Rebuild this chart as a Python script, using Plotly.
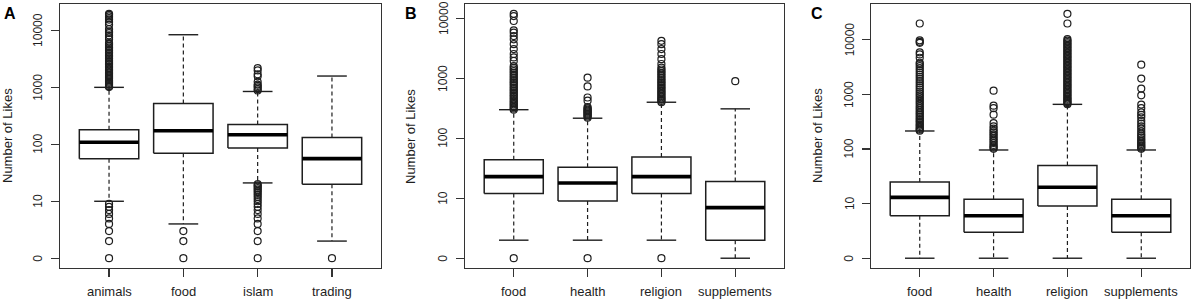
import math
import plotly.graph_objects as go

# ---------------- data (Number of Likes) ----------------
cats_A = ["animals", "food", "islam", "trading"]
q1_A = [55, 69, 85, 19]
med_A = [108, 172, 146, 55]
q3_A = [179, 520, 222, 131]
lo_A = [9, 3, 20, 1]
hi_A = [1000, 8400, 846, 1580]
out_A = [
    [0, 1, 2, 3, 4, 5, 6, 7, 8,
     1010, 1050, 1100, 1150, 1200, 1260, 1320, 1400, 1480, 1560, 1650, 1750, 1850,
     1960, 2080, 2200, 2350, 2500, 2650, 2800, 3000, 3200, 3400, 3600, 3850, 4100,
     4400, 4700, 5000, 5300, 5700, 6000, 7000, 7600, 8200, 9000, 9500, 10500,
     12600, 14000, 15500, 16500, 17700, 18800, 19600],
    [0, 1, 2],
    [0, 1, 2, 3, 4, 5, 6, 7, 8, 9, 10, 11, 12, 13, 14, 15, 16, 17, 18, 19,
     880, 930, 1000, 1060, 1120, 1250, 1560, 1700, 1980, 2180],
    [0],
]

cats_B = ["food", "health", "religion", "supplements"]
q1_B = [11, 8, 11, 1]
med_B = [22, 17, 22, 6]
q3_B = [43, 32, 48, 18]
lo_B = [1, 1, 1, 0]
hi_B = [300, 216, 400, 310]
out_B = [
    [0, 300, 315, 330, 350, 370, 390, 410, 435, 460, 490, 520, 550, 585, 620, 660,
     700, 750, 800, 850, 900, 960, 1020, 1090, 1160, 1240, 1320, 1410, 1500, 1600,
     1960, 2240, 2560, 3090, 3730, 4500, 5100, 5800, 6350, 9100, 11000, 12000],
    [0, 220, 230, 240, 250, 260, 270, 280, 290, 300, 315, 330, 425, 480, 735, 1030],
    [0, 400, 420, 440, 460, 485, 510, 540, 570, 600, 635, 670, 710, 750, 800, 850,
     900, 960, 1020, 1090, 1160, 1240, 1320, 1410, 1520, 1740, 2100, 2560, 3090,
     3730, 4250],
    [900],
]

cats_C = ["food", "health", "religion", "supplements"]
q1_C = [5, 2, 8, 2]
med_C = [12, 5, 19, 5]
q3_C = [24, 11, 49, 11]
lo_C = [0, 0, 0, 0]
hi_C = [213, 95, 657, 95]
out_C = [
    [215, 225, 235, 250, 265, 280, 300, 320, 340, 365, 390, 420, 450, 480, 520, 560,
     600, 650, 700, 760, 820, 890, 960, 1040, 1130, 1230, 1340, 1460, 1600, 1750,
     1920, 2100, 2300, 2520, 2760, 3020, 3300, 3600, 3800, 4700, 5400, 5900, 8800,
     9200, 9800, 19900],
    [100, 105, 111, 118, 128, 138, 148, 160, 173, 185, 200, 215, 235, 260, 298, 425,
     560, 620, 1170],
    [660, 690, 720, 760, 800, 840, 890, 940, 1000, 1060, 1120, 1190, 1260, 1340, 1420,
     1510, 1600, 1700, 1800, 1910, 2030, 2150, 2280, 2420, 2570, 2730, 2900, 3080,
     3270, 3470, 3690, 3920, 4160, 4420, 4700, 4990, 5300, 5630, 5980, 6350, 6750,
     7170, 7620, 8090, 8600, 9130, 9700, 10300, 19900, 30000],
    [100, 104, 110, 116, 123, 130, 140, 150, 162, 175, 190, 210, 235, 260, 290, 330,
     380, 420, 470, 560, 650, 960, 1280, 1950, 3500],
]

tick_vals = [0, 1, 2, 3, 4]
tick_text = ["0", "10", "100", "1000", "10000"]
panel_letters = ["A", "B", "C"]
y_title = "Number of Likes"

# ---------------- layout constants ----------------
W, H = 1192, 300
x_dom_px = [(60, 381), (465, 784), (871, 1190)]
y_top_px, y_bot_px = 4, 268
title_x_px = [7, 410, 817]
letter_x_px = [10, 411, 817]
ylab_offset_px = 21.5
INK = "#1e1e1e"
FONT = "Liberation Sans, Arial, Helvetica, sans-serif"


def tr(v):
    return math.log10(v + 1)


panels = [
    (cats_A, q1_A, med_A, q3_A, lo_A, hi_A, out_A),
    (cats_B, q1_B, med_B, q3_B, lo_B, hi_B, out_B),
    (cats_C, q1_C, med_C, q3_C, lo_C, hi_C, out_C),
]

fig = go.Figure()
layout = dict(
    width=W, height=H, margin=dict(l=0, r=0, t=0, b=0),
    paper_bgcolor="white", plot_bgcolor="white", showlegend=False,
    font=dict(family=FONT, color=INK, size=13),
)
annotations = []

for p, (cats, q1, med, q3, lo, hi, outs) in enumerate(panels):
    xa = "x" if p == 0 else f"x{p+1}"
    ya = "y" if p == 0 else f"y{p+1}"
    n = len(cats)
    pos = list(range(1, n + 1))

    wx, wy, cx, cy, bx, by, mx, my, ox, oy = [], [], [], [], [], [], [], [], [], []
    allv = []
    for i in range(n):
        c = pos[i]
        a1, m, a3, l, h = tr(q1[i]), tr(med[i]), tr(q3[i]), tr(lo[i]), tr(hi[i])
        wx += [c, c, None, c, c, None]
        wy += [a3, h, None, a1, l, None]
        cx += [c - 0.2, c + 0.2, None, c - 0.2, c + 0.2, None]
        cy += [h, h, None, l, l, None]
        bx += [c - 0.4, c + 0.4, c + 0.4, c - 0.4, c - 0.4, None]
        by += [a1, a1, a3, a3, a1, None]
        mx += [c - 0.4, c + 0.4, None]
        my += [m, m, None]
        for v in outs[i]:
            ox.append(c)
            oy.append(tr(v))
        allv += [h, l] + [tr(v) for v in outs[i]]

    fig.add_trace(go.Scatter(x=wx, y=wy, mode="lines", xaxis=xa, yaxis=ya,
                             line=dict(color=INK, width=1.2, dash="4px,3px"),
                             hoverinfo="skip"))
    fig.add_trace(go.Scatter(x=cx, y=cy, mode="lines", xaxis=xa, yaxis=ya,
                             line=dict(color=INK, width=1.4), hoverinfo="skip"))
    fig.add_trace(go.Scatter(x=bx, y=by, mode="lines", xaxis=xa, yaxis=ya,
                             line=dict(color=INK, width=1.5), hoverinfo="skip"))
    fig.add_trace(go.Scatter(x=mx, y=my, mode="lines", xaxis=xa, yaxis=ya,
                             line=dict(color="black", width=3.6), hoverinfo="skip"))
    fig.add_trace(go.Scatter(x=ox, y=oy, mode="markers", xaxis=xa, yaxis=ya,
                             marker=dict(symbol="circle-open", size=7,
                                         color=INK, line=dict(width=1.2, color=INK)),
                             hoverinfo="skip"))

    ymax = max(allv)
    ymin = 0.0
    span = ymax - ymin
    yr = [ymin - 0.04 * span, ymax + 0.04 * span]
    xr = [0.5 - 0.04 * n, n + 0.5 + 0.04 * n]

    x0, x1 = x_dom_px[p]
    axis_common = dict(showline=True, mirror=True, linecolor="#333", linewidth=1.3,
                       ticks="outside", ticklen=8, tickwidth=1.2, tickcolor="#333",
                       showgrid=False, zeroline=False, fixedrange=True)
    xkey = "xaxis" if p == 0 else f"xaxis{p+1}"
    ykey = "yaxis" if p == 0 else f"yaxis{p+1}"
    layout[xkey] = dict(axis_common, domain=[x0 / W, x1 / W], range=xr,
                        anchor=ya, tickmode="array", tickvals=pos,
                        showticklabels=False)
    layout[ykey] = dict(axis_common, domain=[1 - y_bot_px / H, 1 - y_top_px / H],
                        range=yr, anchor=xa, tickmode="array", tickvals=tick_vals,
                        showticklabels=False)

    # category labels under the x ticks
    for c, name in zip(pos, cats):
        annotations.append(dict(text=name, xref=xa, yref="paper", x=c, y=0,
                                xanchor="center", yanchor="bottom", borderpad=0,
                                showarrow=False,
                                font=dict(size=13, family=FONT, color=INK)))

    # rotated y tick labels (R style, parallel to axis)
    for tv, tt in zip(tick_vals, tick_text):
        annotations.append(dict(text=tt, textangle=-90, xref="paper", yref=ya,
                                x=(x0 - ylab_offset_px) / W, y=tv,
                                xanchor="center", yanchor="middle", showarrow=False,
                                font=dict(size=12, family=FONT, color=INK)))

    annotations.append(dict(text=y_title, textangle=-90, xref="paper", yref="paper",
                            x=title_x_px[p] / W, y=1 - 136 / H, xanchor="center",
                            yanchor="middle", showarrow=False,
                            font=dict(size=13, family=FONT, color=INK)))
    annotations.append(dict(text="<b>" + panel_letters[p] + "</b>", xref="paper",
                            yref="paper", x=letter_x_px[p] / W, y=1 - 13 / H,
                            xanchor="center", yanchor="middle", showarrow=False,
                            font=dict(size=16, family=FONT, color="black")))

layout["annotations"] = annotations
fig.update_layout(**layout)
fig.write_html("out.html",
               config={"displayModeBar": False, "staticPlot": True},
               post_script="document.body.style.margin='0';"
                           "document.body.style.overflow='hidden';")
